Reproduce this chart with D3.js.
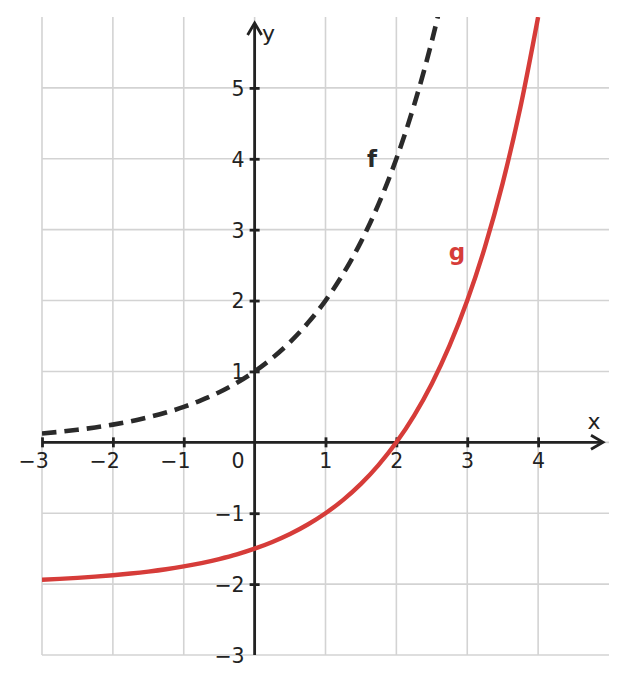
<!DOCTYPE html>
<html><head><meta charset="utf-8">
<script src="https://cdn.jsdelivr.net/npm/d3@7"></script>
<style>body{margin:0;background:#fff;}svg{display:block;font-family:"DejaVu Sans",sans-serif;}</style>
</head><body>
<script>
// Data
const fX = [-3,-2.75,-2.5,-2.25,-2,-1.75,-1.5,-1.25,-1,-0.75,-0.5,-0.25,0,0.25,0.5,0.75,1,1.25,1.5,1.75,2,2.25,2.5,2.75];
const fY = [0.125,0.149,0.177,0.210,0.25,0.297,0.354,0.420,0.5,0.595,0.707,0.841,1,1.189,1.414,1.682,2,2.378,2.828,3.364,4,4.757,5.657,6.727];
const gX = [-3,-2.75,-2.5,-2.25,-2,-1.75,-1.5,-1.25,-1,-0.75,-0.5,-0.25,0,0.25,0.5,0.75,1,1.25,1.5,1.75,2,2.25,2.5,2.75,3,3.25,3.5,3.75,4];
const gY = [-1.9375,-1.926,-1.912,-1.895,-1.875,-1.851,-1.823,-1.790,-1.75,-1.703,-1.646,-1.580,-1.5,-1.405,-1.293,-1.159,-1,-0.811,-0.586,-0.318,0,0.378,0.828,1.364,2,2.757,3.657,4.727,6];
const xTicks = [-3,-2,-1,1,2,3,4];
const yTicks = [-3,-2,-1,1,2,3,4,5];
const xGrid = [-3,-2,-1,0,1,2,3,4];
const yGrid = [-3,-2,-1,0,1,2,3,4,5];

const W = 627, H = 684;
const x = d3.scaleLinear().domain([-3,5]).range([42,609]);
const y = d3.scaleLinear().domain([-3,6]).range([655,17]);
const ink = "#222", red = "#d63c39", grid = "#d3d3d3";
const FS = 20.5;

const svg = d3.select("body").append("svg").attr("width",W).attr("height",H);

// grid
svg.append("g").selectAll("line").data(xGrid).join("line")
  .attr("x1",d=>x(d)).attr("x2",d=>x(d)).attr("y1",y(6)).attr("y2",y(-3))
  .attr("stroke",grid).attr("stroke-width",1.6);
svg.append("g").selectAll("line").data(yGrid).join("line")
  .attr("y1",d=>y(d)).attr("y2",d=>y(d)).attr("x1",x(-3)).attr("x2",x(5))
  .attr("stroke",grid).attr("stroke-width",1.6);

// clip
svg.append("clipPath").attr("id","clip").append("rect")
  .attr("x",x(-3)).attr("y",y(6)).attr("width",x(5)-x(-3)).attr("height",y(-3)-y(6));

// axes
const fmt = d=>String(d).replace("-","\u2212");
const xAxis = d3.axisBottom(x).tickValues(xTicks).tickSize(0).tickFormat(fmt);
const gx = svg.append("g").attr("transform",`translate(0,${y(0)})`).call(xAxis)
  .attr("font-size",FS).attr("font-family","DejaVu Sans");
gx.select(".domain").remove();
gx.selectAll(".tick line").remove();
gx.selectAll(".tick").append("line").attr("y1",-5).attr("y2",5).attr("stroke",ink).attr("stroke-width",2.8);
gx.selectAll(".tick text").attr("fill",ink)
  .attr("text-anchor","end").attr("x",6.3).attr("y",26).attr("dy",0);

const yAxis = d3.axisLeft(y).tickValues(yTicks).tickSize(0).tickFormat(fmt);
const gy = svg.append("g").attr("transform",`translate(${x(0)},0)`).call(yAxis)
  .attr("font-size",FS).attr("font-family","DejaVu Sans");
gy.select(".domain").remove();
gy.selectAll(".tick line").remove();
gy.selectAll(".tick").filter(d=>d!==-3).append("line").attr("x1",-5).attr("x2",5).attr("stroke",ink).attr("stroke-width",2.8);
gy.selectAll(".tick text").attr("fill",ink)
  .attr("text-anchor","end").attr("x",-10).attr("dy","0.36em");

// origin label
svg.append("text").attr("x",x(0)-10).attr("y",y(0)+26).attr("text-anchor","end")
  .attr("font-size",FS).attr("fill",ink).text("0");

// axis lines with arrows
svg.append("line").attr("x1",x(-3)).attr("x2",603).attr("y1",y(0)).attr("y2",y(0)).attr("stroke",ink).attr("stroke-width",2.8);
svg.append("path").attr("d",`M${603-12},${y(0)-7} L603,${y(0)} L${603-12},${y(0)+7}`).attr("fill","none").attr("stroke",ink).attr("stroke-width",2.8);
svg.append("line").attr("x1",x(0)).attr("x2",x(0)).attr("y1",y(-3)).attr("y2",23).attr("stroke",ink).attr("stroke-width",2.8);
svg.append("path").attr("d",`M${x(0)-7},${23+12} L${x(0)},23 L${x(0)+7},${23+12}`).attr("fill","none").attr("stroke",ink).attr("stroke-width",2.8);

// curves
const line = d3.line().x(d=>x(d[0])).y(d=>y(d[1])).curve(d3.curveMonotoneX);
const gData = gX.map((v,i)=>[v,gY[i]]);
const fData = fX.map((v,i)=>[v,fY[i]]);
svg.append("path").attr("clip-path","url(#clip)").attr("d",line(gData)).attr("fill","none")
  .attr("stroke",red).attr("stroke-width",4.4);
svg.append("path").attr("clip-path","url(#clip)").attr("d",line(fData)).attr("fill","none")
  .attr("stroke","#2a2a2a").attr("stroke-width",4.6).attr("stroke-dasharray","14.5,8");

// labels
svg.append("text").attr("x",594).attr("y",429).attr("text-anchor","middle").attr("font-size",22).attr("fill",ink).text("x");
svg.append("text").attr("x",262).attr("y",41).attr("font-size",22).attr("fill",ink).text("y");
svg.append("text").attr("x",372).attr("y",167).attr("text-anchor","middle").attr("font-size",23).attr("font-weight","bold").attr("fill","#2a2a2a").text("f");
svg.append("text").attr("x",457).attr("y",260).attr("text-anchor","middle").attr("font-size",23).attr("font-weight","bold").attr("fill",red).text("g");
</script>
</body></html>
